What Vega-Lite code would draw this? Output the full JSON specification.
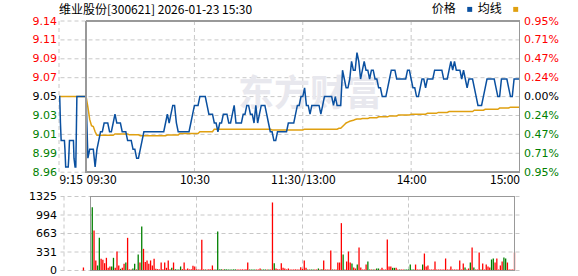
{
 "$schema": "https://vega.github.io/schema/vega-lite/v6.json",
 "padding": {"left": 28, "top": 3, "right": 0, "bottom": 0},
 "background": "white",
 "spacing": 23.5,
 "bounds": "flush",
 "title": {"text": "维业股份[300621] 2026-01-23 15:30", "anchor": "start", "frame": "bounds", "dx": 30.5, "offset": -14, "font": "Noto Sans CJK SC", "fontSize": 12, "fontWeight": "normal", "color": "#000000", "baseline": "top"},
 "resolve": {"scale": {"x": "independent", "y": "independent", "color": "independent"}, "axis": {"x": "independent", "y": "independent"}, "legend": {"color": "independent"}},
 "datasets": {"m": [
{"t":0,"p":9.05,"a":9.05},{"t":0.4,"p":9.05,"a":9.05},{"t":0.8,"p":9.02,"a":9.05},{"t":1.2,"p":9.0,"a":9.05},{"t":3.0,"p":9.0,"a":9.05},{"t":3.3,"p":8.99,"a":9.05},{"t":3.7,"p":8.97,"a":9.05},{"t":5.1,"p":8.97,"a":9.05},{"t":5.4,"p":8.98,"a":9.05},{"t":5.8,"p":9.0,"a":9.05},{"t":8.0,"p":9.0,"a":9.05},{"t":8.3,"p":8.98,"a":9.05},{"t":8.9,"p":8.97,"a":9.05},{"t":9.3,"p":8.97,"a":9.05},{"t":9.9,"p":9.05,"a":9.05},{"t":11,"p":9.05,"a":9.05,"v":54,"c":"r"},
{"t":15,"p":9.05,"a":9.05},
{"t":16,"p":8.98,"a":9.038,"v":1134,"c":"g"},{"t":17,"p":8.99,"a":9.024,"v":716,"c":"r"},{"t":18,"p":8.99,"a":9.017,"v":179,"c":"r"},{"t":19,"p":8.99,"a":9.016,"v":90,"c":"g"},{"t":20,"p":8.97,"a":9.010,"v":585,"c":"g"},
{"t":21,"p":8.99,"a":9.006,"v":209,"c":"r"},{"t":22,"p":9.0,"a":9.006,"v":191,"c":"r"},{"t":23,"p":9.01,"a":9.006,"v":131,"c":"r"},{"t":24,"p":9.01,"a":9.006,"v":227,"c":"r"},{"t":25,"p":9.02,"a":9.006,"v":48,"c":"r"},
{"t":26,"p":9.02,"a":9.006,"v":72,"c":"r"},{"t":27,"p":9.02,"a":9.006,"v":72,"c":"g"},{"t":28,"p":9.01,"a":9.006,"v":227,"c":"g"},{"t":29,"p":9.01,"a":9.006,"v":48,"c":"r"},{"t":30,"p":9.02,"a":9.006,"v":340,"c":"r"},
{"t":31,"p":9.03,"a":9.0075,"v":90,"c":"r"},{"t":32,"p":9.02,"a":9.0075,"v":30,"c":"g"},{"t":33,"p":9.02,"a":9.0075,"v":48,"c":"r"},{"t":34,"p":9.02,"a":9.0075,"v":120,"c":"r"},{"t":35,"p":9.01,"a":9.0075,"v":143,"c":"g"},
{"t":36,"p":9.01,"a":9.0075,"v":585,"c":"r"},{"t":37,"p":9.01,"a":9.0075,"v":20,"c":"r"},{"t":38,"p":9.0,"a":9.0075,"v":20,"c":"r"},{"t":39,"p":9.0,"a":9.0065,"v":36,"c":"g"},{"t":40,"p":9.0,"a":9.0065,"v":120,"c":"g"},
{"t":41,"p":8.99,"a":9.0065,"v":20,"c":"r"},{"t":42,"p":8.99,"a":9.0065,"v":287,"c":"g"},{"t":43,"p":8.98,"a":9.0065,"v":143,"c":"r"},{"t":44,"p":8.98,"a":9.0065,"v":788,"c":"g"},{"t":45,"p":8.99,"a":9.0056,"v":388,"c":"r"},
{"t":46,"p":9.0,"a":9.0056,"v":150,"c":"r"},{"t":47,"p":9.01,"a":9.0056,"v":180,"c":"r"},{"t":48,"p":9.01,"a":9.0056,"v":120,"c":"r"},{"t":49,"p":9.01,"a":9.0056,"v":180,"c":"r"},{"t":50,"p":9.01,"a":9.0056,"v":90,"c":"r"},
{"t":51,"p":9.01,"a":9.0056,"v":209,"c":"r"},{"t":52,"p":9.01,"a":9.0056,"v":30,"c":"r"},{"t":53,"p":9.01,"a":9.0056,"v":24,"c":"r"},{"t":54,"p":9.01,"a":9.0056,"v":20,"c":"r"},{"t":55,"p":9.01,"a":9.0056,"v":143,"c":"r"},
{"t":56,"p":9.01,"a":9.0056,"v":24,"c":"r"},{"t":57,"p":9.01,"a":9.0056,"v":143,"c":"r"},{"t":58,"p":9.01,"a":9.0056,"v":48,"c":"r"},{"t":59,"p":9.02,"a":9.0056,"v":180,"c":"r"},{"t":60,"p":9.03,"a":9.0064,"v":24,"c":"r"},
{"t":61,"p":9.02,"a":9.0064,"v":48,"c":"g"},{"t":62,"p":9.03,"a":9.0064,"v":143,"c":"r"},{"t":63,"p":9.04,"a":9.0064,"v":24,"c":"g"},{"t":64,"p":9.04,"a":9.0064,"v":20,"c":"g"},{"t":65,"p":9.02,"a":9.0064,"v":20,"c":"g"},
{"t":66,"p":9.01,"a":9.0064,"v":72,"c":"g"},{"t":67,"p":9.01,"a":9.008,"v":24,"c":"r"},{"t":68,"p":9.01,"a":9.008,"v":143,"c":"r"},{"t":69,"p":9.01,"a":9.008,"v":20,"c":"r"},{"t":70,"p":9.01,"a":9.008,"v":36,"c":"r"},
{"t":71,"p":9.01,"a":9.008,"v":20,"c":"r"},{"t":72,"p":9.01,"a":9.008,"v":24,"c":"r"},{"t":73,"p":9.02,"a":9.008,"v":84,"c":"r"},{"t":74,"p":9.03,"a":9.008,"v":72,"c":"r"},{"t":75,"p":9.04,"a":9.008,"v":20,"c":"r"},
{"t":76,"p":9.04,"a":9.008,"v":20,"c":"r"},{"t":77,"p":9.04,"a":9.008,"v":20,"c":"r"},{"t":78,"p":9.05,"a":9.010,"v":549,"c":"r"},{"t":79,"p":9.05,"a":9.010,"v":20,"c":"r"},{"t":80,"p":9.05,"a":9.010,"v":20,"c":"g"},
{"t":81,"p":9.05,"a":9.010,"v":20,"c":"r"},{"t":82,"p":9.04,"a":9.010,"v":24,"c":"r"},{"t":83,"p":9.03,"a":9.010,"v":20,"c":"r"},{"t":84,"p":9.03,"a":9.010,"v":90,"c":"r"},{"t":85,"p":9.03,"a":9.010,"v":20,"c":"r"},
{"t":86,"p":9.02,"a":9.013,"v":20,"c":"g"},{"t":87,"p":9.02,"a":9.013,"v":698,"c":"g"},{"t":88,"p":9.01,"a":9.013,"v":20,"c":"g"},{"t":89,"p":9.02,"a":9.013,"v":24,"c":"g"},{"t":90,"p":9.02,"a":9.013,"v":20,"c":"r"},
{"t":91,"p":9.03,"a":9.013,"v":24,"c":"g"},{"t":92,"p":9.03,"a":9.013,"v":20,"c":"g"},{"t":93,"p":9.03,"a":9.013,"v":20,"c":"g"},{"t":94,"p":9.02,"a":9.013,"v":20,"c":"g"},{"t":95,"p":9.02,"a":9.013,"v":20,"c":"g"},
{"t":96,"p":9.03,"a":9.013,"v":20,"c":"g"},{"t":97,"p":9.04,"a":9.013,"v":20,"c":"g"},{"t":98,"p":9.02,"a":9.013,"v":18,"c":"r"},{"t":99,"p":9.02,"a":9.013,"v":18,"c":"r"},{"t":100,"p":9.02,"a":9.013,"v":18,"c":"r"},
{"t":101,"p":9.02,"a":9.013,"v":20,"c":"r"},{"t":102,"p":9.03,"a":9.013,"v":20,"c":"r"},{"t":103,"p":9.03,"a":9.013,"v":24,"c":"r"},{"t":104,"p":9.04,"a":9.013,"v":143,"c":"r"},{"t":105,"p":9.04,"a":9.013,"v":18,"c":"g"},
{"t":106,"p":9.03,"a":9.013,"v":18,"c":"g"},{"t":107,"p":9.03,"a":9.013,"v":18,"c":"g"},{"t":108,"p":9.02,"a":9.013,"v":18,"c":"g"},{"t":109,"p":9.04,"a":9.013,"v":18,"c":"r"},{"t":110,"p":9.02,"a":9.013,"v":18,"c":"r"},
{"t":111,"p":9.03,"a":9.013,"v":36,"c":"r"},{"t":112,"p":9.04,"a":9.013,"v":18,"c":"g"},{"t":113,"p":9.04,"a":9.013,"v":18,"c":"g"},{"t":114,"p":9.04,"a":9.013,"v":18,"c":"g"},{"t":115,"p":9.03,"a":9.013,"v":18,"c":"r"},
{"t":116,"p":9.02,"a":9.013,"v":18,"c":"g"},{"t":117,"p":9.01,"a":9.013,"v":18,"c":"r"},{"t":118,"p":9.01,"a":9.012,"v":1218,"c":"r"},{"t":119,"p":9.0,"a":9.012,"v":131,"c":"g"},{"t":120,"p":9.0,"a":9.012,"v":36,"c":"r"},
{"t":121,"p":9.01,"a":9.012,"v":24,"c":"r"},{"t":122,"p":9.01,"a":9.012,"v":20,"c":"r"},{"t":123,"p":9.01,"a":9.012,"v":131,"c":"r"},{"t":124,"p":9.01,"a":9.012,"v":48,"c":"r"},{"t":125,"p":9.01,"a":9.012,"v":36,"c":"r"},
{"t":126,"p":9.01,"a":9.012,"v":20,"c":"r"},{"t":127,"p":9.02,"a":9.012,"v":36,"c":"r"},{"t":128,"p":9.02,"a":9.012,"v":20,"c":"r"},{"t":129,"p":9.02,"a":9.012,"v":20,"c":"r"},{"t":130,"p":9.02,"a":9.012,"v":20,"c":"r"},
{"t":131,"p":9.03,"a":9.012,"v":20,"c":"r"},{"t":132,"p":9.04,"a":9.012,"v":18,"c":"r"},{"t":133,"p":9.04,"a":9.012,"v":20,"c":"r"},{"t":134,"p":9.05,"a":9.012,"v":60,"c":"r"},{"t":135,"p":9.05,"a":9.012,"v":30,"c":"r"},
{"t":136,"p":9.06,"a":9.013,"v":179,"c":"r"},{"t":137,"p":9.04,"a":9.013,"v":48,"c":"r"},{"t":138,"p":9.04,"a":9.013,"v":20,"c":"g"},{"t":139,"p":9.03,"a":9.013,"v":18,"c":"r"},{"t":140,"p":9.04,"a":9.013,"v":18,"c":"g"},
{"t":141,"p":9.04,"a":9.013,"v":18,"c":"g"},{"t":142,"p":9.04,"a":9.013,"v":18,"c":"r"},{"t":143,"p":9.04,"a":9.013,"v":18,"c":"r"},{"t":144,"p":9.04,"a":9.013,"v":36,"c":"g"},{"t":145,"p":9.03,"a":9.013,"v":18,"c":"r"},
{"t":146,"p":9.04,"a":9.013,"v":24,"c":"g"},{"t":147,"p":9.05,"a":9.013,"v":179,"c":"r"},{"t":148,"p":9.05,"a":9.013,"v":18,"c":"r"},{"t":149,"p":9.05,"a":9.013,"v":18,"c":"r"},{"t":150,"p":9.05,"a":9.013,"v":18,"c":"r"},
{"t":151,"p":9.05,"a":9.013,"v":358,"c":"r"},{"t":152,"p":9.04,"a":9.013,"v":18,"c":"g"},{"t":153,"p":9.05,"a":9.013,"v":18,"c":"r"},{"t":154,"p":9.04,"a":9.013,"v":18,"c":"r"},{"t":155,"p":9.04,"a":9.014,"v":143,"c":"r"},
{"t":156,"p":9.04,"a":9.014,"v":143,"c":"r"},{"t":157,"p":9.08,"a":9.016,"v":848,"c":"r"},{"t":158,"p":9.07,"a":9.018,"v":287,"c":"g"},{"t":159,"p":9.06,"a":9.020,"v":18,"c":"r"},{"t":160,"p":9.06,"a":9.021,"v":161,"c":"r"},
{"t":161,"p":9.07,"a":9.022,"v":340,"c":"r"},{"t":162,"p":9.09,"a":9.0225,"v":143,"c":"r"},{"t":163,"p":9.08,"a":9.023,"v":125,"c":"g"},{"t":164,"p":9.08,"a":9.024,"v":54,"c":"r"},{"t":165,"p":9.10,"a":9.0245,"v":36,"c":"r"},
{"t":166,"p":9.09,"a":9.0245,"v":107,"c":"g"},{"t":167,"p":9.07,"a":9.0245,"v":412,"c":"r"},{"t":168,"p":9.08,"a":9.025,"v":54,"c":"r"},{"t":169,"p":9.09,"a":9.025,"v":18,"c":"r"},{"t":170,"p":9.08,"a":9.025,"v":18,"c":"r"},
{"t":171,"p":9.08,"a":9.025,"v":107,"c":"r"},{"t":172,"p":9.07,"a":9.026,"v":161,"c":"g"},{"t":173,"p":9.08,"a":9.026,"v":18,"c":"g"},{"t":174,"p":9.08,"a":9.026,"v":18,"c":"r"},{"t":175,"p":9.07,"a":9.026,"v":18,"c":"g"},
{"t":176,"p":9.07,"a":9.026,"v":18,"c":"r"},{"t":177,"p":9.06,"a":9.027,"v":36,"c":"g"},{"t":178,"p":9.06,"a":9.027,"v":36,"c":"g"},{"t":179,"p":9.05,"a":9.027,"v":18,"c":"r"},{"t":180,"p":9.05,"a":9.027,"v":48,"c":"r"},
{"t":181,"p":9.05,"a":9.027,"v":18,"c":"r"},{"t":182,"p":9.06,"a":9.027,"v":18,"c":"r"},{"t":183,"p":9.07,"a":9.028,"v":555,"c":"r"},{"t":184,"p":9.08,"a":9.028,"v":72,"c":"r"},{"t":185,"p":9.08,"a":9.028,"v":72,"c":"r"},
{"t":186,"p":9.08,"a":9.028,"v":48,"c":"g"},{"t":187,"p":9.07,"a":9.028,"v":48,"c":"g"},{"t":188,"p":9.07,"a":9.029,"v":48,"c":"r"},{"t":189,"p":9.07,"a":9.029,"v":18,"c":"r"},{"t":190,"p":9.07,"a":9.029,"v":18,"c":"g"},
{"t":191,"p":9.07,"a":9.029,"v":18,"c":"r"},{"t":192,"p":9.07,"a":9.029,"v":18,"c":"r"},{"t":193,"p":9.08,"a":9.029,"v":18,"c":"g"},{"t":194,"p":9.08,"a":9.029,"v":18,"c":"g"},{"t":195,"p":9.07,"a":9.030,"v":18,"c":"g"},
{"t":196,"p":9.06,"a":9.030,"v":107,"c":"g"},{"t":197,"p":9.06,"a":9.030,"v":18,"c":"g"},{"t":198,"p":9.05,"a":9.030,"v":18,"c":"g"},{"t":199,"p":9.05,"a":9.030,"v":107,"c":"r"},{"t":200,"p":9.06,"a":9.030,"v":18,"c":"r"},
{"t":201,"p":9.07,"a":9.030,"v":18,"c":"r"},{"t":202,"p":9.07,"a":9.030,"v":18,"c":"r"},{"t":203,"p":9.06,"a":9.030,"v":107,"c":"g"},{"t":204,"p":9.07,"a":9.031,"v":304,"c":"r"},{"t":205,"p":9.07,"a":9.031,"v":72,"c":"r"},
{"t":206,"p":9.07,"a":9.031,"v":90,"c":"r"},{"t":207,"p":9.07,"a":9.031,"v":18,"c":"r"},{"t":208,"p":9.08,"a":9.031,"v":18,"c":"r"},{"t":209,"p":9.08,"a":9.031,"v":18,"c":"r"},{"t":210,"p":9.08,"a":9.032,"v":161,"c":"r"},
{"t":211,"p":9.08,"a":9.032,"v":18,"c":"r"},{"t":212,"p":9.08,"a":9.032,"v":18,"c":"r"},{"t":213,"p":9.07,"a":9.032,"v":18,"c":"r"},{"t":214,"p":9.07,"a":9.032,"v":18,"c":"r"},{"t":215,"p":9.07,"a":9.032,"v":18,"c":"r"},
{"t":216,"p":9.08,"a":9.033,"v":215,"c":"r"},{"t":217,"p":9.09,"a":9.033,"v":18,"c":"r"},{"t":218,"p":9.08,"a":9.033,"v":18,"c":"r"},{"t":219,"p":9.09,"a":9.033,"v":72,"c":"r"},{"t":220,"p":9.08,"a":9.033,"v":18,"c":"r"},
{"t":221,"p":9.08,"a":9.033,"v":18,"c":"r"},{"t":222,"p":9.08,"a":9.033,"v":18,"c":"r"},{"t":223,"p":9.07,"a":9.033,"v":18,"c":"r"},{"t":224,"p":9.08,"a":9.033,"v":179,"c":"r"},{"t":225,"p":9.07,"a":9.033,"v":18,"c":"r"},
{"t":226,"p":9.06,"a":9.033,"v":125,"c":"r"},{"t":227,"p":9.07,"a":9.033,"v":54,"c":"g"},{"t":228,"p":9.07,"a":9.033,"v":18,"c":"r"},{"t":229,"p":9.07,"a":9.033,"v":36,"c":"r"},{"t":230,"p":9.06,"a":9.0345,"v":143,"c":"g"},
{"t":231,"p":9.05,"a":9.0345,"v":412,"c":"r"},{"t":232,"p":9.04,"a":9.0345,"v":54,"c":"g"},{"t":233,"p":9.04,"a":9.0345,"v":18,"c":"r"},{"t":234,"p":9.04,"a":9.0345,"v":18,"c":"r"},{"t":235,"p":9.05,"a":9.0345,"v":322,"c":"r"},
{"t":236,"p":9.06,"a":9.0356,"v":18,"c":"g"},{"t":237,"p":9.07,"a":9.0356,"v":125,"c":"r"},{"t":238,"p":9.07,"a":9.0356,"v":18,"c":"r"},{"t":239,"p":9.07,"a":9.0356,"v":107,"c":"r"},{"t":240,"p":9.07,"a":9.0356,"v":72,"c":"r"},
{"t":241,"p":9.07,"a":9.0356,"v":54,"c":"r"},{"t":242,"p":9.06,"a":9.0356,"v":197,"c":"g"},{"t":243,"p":9.05,"a":9.0356,"v":215,"c":"g"},{"t":244,"p":9.05,"a":9.037,"v":143,"c":"r"},{"t":245,"p":9.07,"a":9.037,"v":215,"c":"r"},
{"t":246,"p":9.07,"a":9.037,"v":18,"c":"r"},{"t":247,"p":9.07,"a":9.037,"v":90,"c":"r"},{"t":248,"p":9.07,"a":9.037,"v":161,"c":"r"},{"t":249,"p":9.06,"a":9.037,"v":233,"c":"g"},{"t":250,"p":9.05,"a":9.038,"v":215,"c":"g"},
{"t":251,"p":9.05,"a":9.038,"v":143,"c":"r"},{"t":252,"p":9.07,"a":9.038,"v":18,"c":"r"},{"t":253,"p":9.07,"a":9.038,"v":18,"c":"r"},{"t":254,"p":9.07,"a":9.038,"v":18,"c":"r"},{"t":255,"p":9.07,"a":9.038,"v":322,"c":"r"}
 ],
 "pg": [{"g": 8.964025}, {"g": 8.98551875}, {"g": 9.0070125}, {"g": 9.02850625}, {"g": 9.05}, {"g": 9.07149375}, {"g": 9.0929875}, {"g": 9.11448125}, {"g": 9.135975}],
 "vg": [{"g": 0}, {"g": 331.25}, {"g": 662.5}, {"g": 993.75}, {"g": 1325}],
 "tg": [{"g": 0}, {"g": 75}, {"g": 135}, {"g": 195}]
 },
 "data": {"name": "m"},
 "config": {
  "view": {"stroke": null, "fill": null}
 },
 "vconcat": [
  {
   "width": 460.5,
   "height": 151.2,
   "layer": [
    {
     "data": {"name": "pg"},
     "mark": {"type": "rule", "stroke": "#c8c8c8", "strokeDash": [4, 3], "strokeWidth": 1},
     "encoding": {"y": {"field": "g", "type": "quantitative", "axis": null}}
    },
    {
     "data": {"name": "tg"},
     "mark": {"type": "rule", "stroke": "#c8c8c8", "strokeDash": [4, 3], "strokeWidth": 1},
     "encoding": {"x": {"field": "g", "type": "quantitative", "axis": null}}
    },
    {
     "data": {"values": [{"w": "东方财富"}]},
     "mark": {"type": "text", "font": "Noto Sans CJK SC", "fontSize": 36, "fontWeight": "bold", "color": "#e8e8ee", "baseline": "middle", "align": "center"},
     "encoding": {
      "text": {"field": "w", "type": "nominal"},
      "x": {"datum": 139, "type": "quantitative", "axis": null},
      "y": {"datum": 9.0515, "type": "quantitative", "axis": null}
     }
    },
    {
     "mark": {"type": "line", "strokeWidth": 1.5},
     "transform": [{"fold": ["a", "p"], "as": ["s", "val"]}],
     "encoding": {
      "x": {"field": "t", "type": "quantitative", "scale": {"domain": [0, 255], "nice": false, "zero": false},
        "axis": {"title": null, "values": [0, 15, 75, 135, 195, 255], "grid": false, "domain": false, "ticks": false, "labelFlush": false, "labelOverlap": false, "labelFont": "Noto Sans CJK SC", "labelFontSize": 12, "labelColor": "#000000", "labelPadding": 2,
          "labelExpr": "datum.value == 0 ? '9:15' : datum.value == 15 ? '09:30' : datum.value == 75 ? '10:30' : datum.value == 135 ? '11:30/13:00' : datum.value == 195 ? '14:00' : '15:00'",
          "labelAlign": {"condition": [{"test": "datum.value <= 15", "value": "left"}, {"test": "datum.value >= 255", "value": "right"}], "value": "center"}}},
      "y": {"field": "val", "type": "quantitative", "scale": {"domain": [8.964025, 9.135975], "nice": false, "zero": false},
        "axis": {"title": null, "orient": "left", "values": [8.964025, 8.98551875, 9.0070125, 9.02850625, 9.05, 9.07149375, 9.0929875, 9.11448125, 9.135975], "format": ".2f", "grid": false, "domain": false, "ticks": false, "labelFont": "DejaVu Sans", "labelFontSize": 11, "labelPadding": 2.5,
          "labelColor": {"expr": "datum.value > 9.06 ? '#ff0000' : datum.value < 9.04 ? '#008000' : '#000000'"}}},
      "color": {"field": "s", "type": "nominal", "scale": {"domain": ["p", "a"], "range": ["#0a50a0", "#e0a010"]},
        "legend": {"orient": "none", "legendX": 404.7, "legendY": -18, "direction": "horizontal", "title": null, "padding": 0, "symbolType": "square", "symbolSize": 6, "symbolStrokeWidth": 2.5, "labelAlign": "right", "labelOffset": -20, "columnPadding": 0, "labelFont": "Noto Sans CJK SC", "labelFontSize": 12, "labelColor": "#000000", "labelExpr": "datum.label == 'p' ? '价格' : '均线'"}}
     }
    },
    {
     "mark": {"type": "rect", "fillOpacity": 0, "stroke": "#999999", "strokeWidth": 1},
     "encoding": {
      "x": {"datum": 15, "type": "quantitative", "axis": null},
      "x2": {"datum": 255},
      "y": {"datum": 8.964025, "type": "quantitative",
        "axis": {"title": null, "orient": "right", "grid": false, "domain": false, "ticks": false, "labelFont": "DejaVu Sans", "labelFontSize": 11, "labelPadding": 4, "values": [8.964025, 8.98551875, 9.0070125, 9.02850625, 9.05, 9.07149375, 9.0929875, 9.11448125, 9.135975],
          "labelExpr": "['0.00%', '0.24%', '0.47%', '0.71%', '0.95%'][abs(round((datum.value - 9.05) / 0.02149375))]",
          "labelColor": {"expr": "datum.value > 9.06 ? '#ff0000' : datum.value < 9.04 ? '#008000' : '#000000'"}}},
      "y2": {"datum": 9.135975}
     }
    }
   ],
   "resolve": {"axis": {"x": "independent", "y": "independent"}}
  },
  {
   "width": 460.5,
   "height": 74,
   "layer": [
    {
     "data": {"name": "vg"},
     "mark": {"type": "rule", "stroke": "#c8c8c8", "strokeDash": [4, 3], "strokeWidth": 1},
     "encoding": {"y": {"field": "g", "type": "quantitative", "axis": null}}
    },
    {
     "data": {"name": "tg"},
     "mark": {"type": "rule", "stroke": "#c8c8c8", "strokeDash": [4, 3], "strokeWidth": 1},
     "encoding": {"x": {"field": "g", "type": "quantitative", "axis": null}}
    },
    {
     "mark": {"type": "bar", "size": 1.3, "orient": "vertical"},
     "transform": [{"filter": {"field": "v", "valid": true}}],
     "encoding": {
      "x": {"field": "t", "type": "quantitative", "scale": {"domain": [0, 255], "nice": false, "zero": false}, "axis": null},
      "y": {"field": "v", "type": "quantitative", "scale": {"domain": [0, 1325], "nice": false},
        "axis": {"title": null, "values": [0, 331.25, 662.5, 993.75, 1325], "format": ".0f", "grid": false, "domain": false, "ticks": false, "labelFont": "DejaVu Sans", "labelFontSize": 11, "labelColor": "#000000", "labelPadding": 2.5}},
      "color": {"field": "c", "type": "nominal", "scale": {"domain": ["r", "g"], "range": ["#ff0000", "#008000"]}, "legend": null}
     }
    },
    {
     "mark": {"type": "rect", "fillOpacity": 0, "stroke": "#999999", "strokeWidth": 1},
     "encoding": {
      "x": {"datum": 15, "type": "quantitative", "axis": null},
      "x2": {"datum": 255},
      "y": {"datum": 0, "type": "quantitative", "axis": null},
      "y2": {"datum": 1325}
     }
    }
   ],
   "resolve": {"axis": {"x": "independent", "y": "independent"}}
  }
 ]
}
